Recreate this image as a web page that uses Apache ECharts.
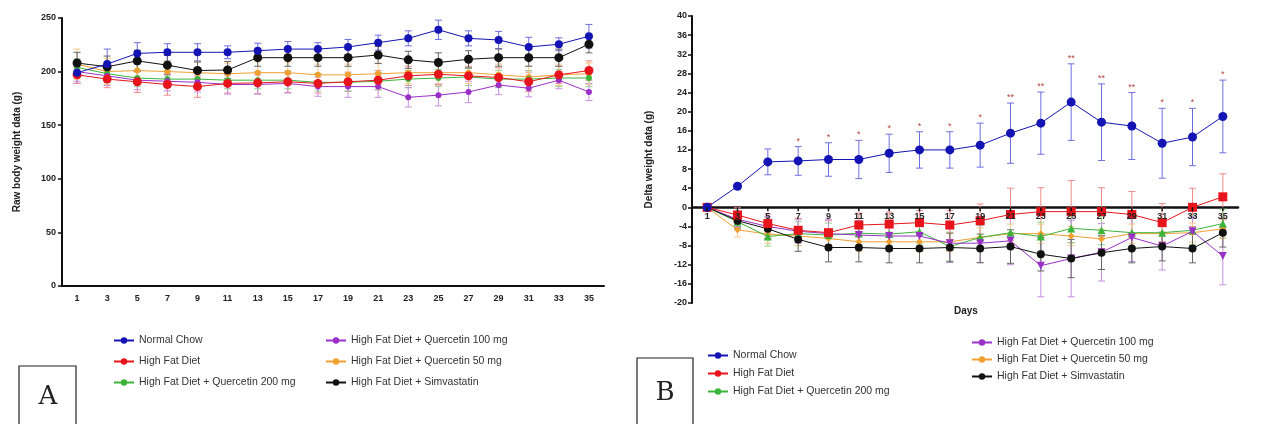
<!DOCTYPE html>
<html>
<head>
<meta charset="utf-8">
<script src="https://cdn.jsdelivr.net/npm/echarts@6/dist/echarts.min.js"></script>
<style>
  html, body { margin: 0; padding: 0; background: #fff; }
  #main { width: 1261px; height: 424px; }
</style>
</head>
<body>
<div id="main"></div>
<script>
"use strict"

// day labels (shared by both panels)
var days = ['1', '3', '5', '7', '9', '11', '13', '15', '17', '19', '21', '23', '25', '27', '29', '31', '33', '35'];

var groupNames = ['Normal Chow', 'High Fat Diet', 'High Fat Diet + Quercetin 200 mg',
	'High Fat Diet + Quercetin 100 mg', 'High Fat Diet + Quercetin 50 mg', 'High Fat Diet + Simvastatin'];

// panel A - raw body weight (g), mean and SD
var rawNormal = [199, 207, 217, 218, 218, 218, 219.5, 221, 221, 223, 227, 231, 239, 231, 229.5, 223, 225.5, 233];
var rawNormalSd = [10, 14, 10, 8, 8, 6, 7, 7, 6, 7, 7, 7, 9, 7, 8, 9, 6, 11];
var rawHfd = [197, 193, 190.5, 188, 186, 189, 189.5, 190.5, 189, 190.5, 192, 196, 197.5, 196, 194.5, 190.5, 197, 201];
var rawHfdSd = [8, 8, 10, 10, 10, 9, 10, 10, 9, 9, 9, 9, 9, 9, 9, 9, 8, 9];
var rawQ200 = [204, 198, 194, 193, 193, 192, 192, 192, 190, 190, 191, 193, 194, 195, 193, 193, 194, 194];
var rawQ200Sd = [8, 8, 8, 8, 8, 8, 8, 8, 8, 8, 8, 8, 8, 8, 8, 8, 8, 8];
var rawQ100 = [200, 196, 192, 191, 190, 188, 188, 189, 186, 186, 186, 176, 178, 181, 187.5, 184.5, 192, 181];
var rawQ100Sd = [9, 9, 9, 9, 9, 9, 9, 9, 9, 10, 10, 9, 10, 10, 9, 8, 8, 8];
var rawQ50 = [207, 200, 201, 200, 199, 198, 199, 199, 197, 197, 198, 199, 199, 199, 197, 195, 197, 198];
var rawQ50Sd = [14, 12, 10, 10, 10, 10, 10, 10, 10, 10, 10, 10, 12, 10, 10, 10, 10, 10];
var rawSimva = [208, 204.5, 210, 206, 201, 201.5, 213, 213, 213, 213, 215.5, 211, 208.5, 211.5, 213, 213, 213, 225.5];
var rawSimvaSd = [10, 10, 10, 9, 8, 8, 8, 8, 8, 8, 8, 8, 9, 8, 8, 8, 8, 8];

// panel B - delta weight (g), mean and SD
var deltaNormal = [0, 4.4, 9.5, 9.7, 10, 10, 11.3, 12, 12, 13, 15.5, 17.6, 22, 17.8, 17, 13.4, 14.7, 19];
var deltaNormalSd = [0, 0.6, 2.7, 3, 3.5, 4, 4, 3.8, 3.8, 4.6, 6.3, 6.5, 8, 8, 7, 7.3, 6, 7.6];
var deltaHfd = [0, -1.6, -3.4, -4.8, -5.3, -3.7, -3.5, -3.2, -3.7, -2.8, -1.5, -0.9, -0.9, -0.9, -1.5, -3.2, 0, 2.2];
var deltaHfdSd = [0, 1.5, 2, 2.5, 2.5, 2.5, 2.5, 2.5, 3, 3.5, 5.5, 5, 6.5, 5, 4.8, 4, 4, 4.8];
var deltaQ200 = [0, -3, -6.1, -5.5, -5.8, -5.4, -5.6, -5.1, -8.2, -6.3, -5.3, -6.1, -4.4, -4.8, -5.3, -5.3, -4.8, -3.4];
var deltaQ200Sd = [0, 1.5, 2, 2.5, 2.5, 2.5, 2.5, 2.5, 3, 2.5, 3, 3, 3, 3, 3, 3, 3, 3];
var deltaQ100 = [0, -2.5, -4, -5, -5.5, -5.8, -6, -6, -7.5, -7.5, -7, -12.2, -10.7, -9.4, -6.3, -8.1, -5, -10.2];
var deltaQ100Sd = [0, 1.5, 2, 2.5, 3, 3, 3, 3, 4, 4, 5, 6.5, 8, 6, 5, 5, 3, 6];
var deltaQ50 = [0, -4.7, -5.6, -6, -6.5, -7.2, -7.2, -7.2, -7.2, -6.3, -5.5, -5.5, -6, -6.6, -5.5, -5.5, -5.3, -4.5];
var deltaQ50Sd = [0, 1.5, 2, 2, 2, 2, 2, 2, 2, 2, 2, 2, 2, 2, 2, 2, 2, 2];
var deltaSimva = [0, -2.8, -4.5, -6.7, -8.4, -8.4, -8.6, -8.6, -8.4, -8.6, -8.2, -9.8, -10.7, -9.5, -8.6, -8.2, -8.6, -5.3];
var deltaSimvaSd = [0, 1.5, 2, 2.5, 3, 3, 3, 3, 3, 3, 3.5, 3.5, 4, 3.5, 3, 3, 3, 3];

// significance marks over Normal Chow in panel B
var starLabels = ['', '', '', '*', '*', '*', '*', '*', '*', '*', '**', '**', '**', '**', '**', '*', '*', '*'];

var colors = ['#1414b4', '#e8141c', '#3cb43c', '#9b30c8', '#f0a030', '#111111'];
var barColors = ['#6e6ee0', '#f08a8a', '#8ed88e', '#c690e0', '#f6c88a', '#666666'];

var font = 'Liberation Sans, Arial, sans-serif';

function errorRows(mean, sd) {
	var rows = [];
	for (var i = 0; i < mean.length; i++) {
		rows.push([i, mean[i] - sd[i], mean[i] + sd[i]]);
	}
	return rows;
}

function errorBarRender(color) {
	return function(params, api) {
		var x = api.value(0);
		var lo = api.coord([x, api.value(1)]);
		var hi = api.coord([x, api.value(2)]);
		var w = 3.5;
		var style = { stroke : color, lineWidth : 1 };
		return {
			type : 'group',
			children : [
				{ type : 'line', shape : { x1 : lo[0], y1 : lo[1], x2 : hi[0], y2 : hi[1] }, style : style },
				{ type : 'line', shape : { x1 : hi[0] - w, y1 : hi[1], x2 : hi[0] + w, y2 : hi[1] }, style : style },
				{ type : 'line', shape : { x1 : lo[0] - w, y1 : lo[1], x2 : lo[0] + w, y2 : lo[1] }, style : style }
			]
		};
	};
}

var symbolsA = ['circle', 'circle', 'circle', 'circle', 'circle', 'circle'];
var sizesA = [8, 9, 6, 6, 6, 9];
var symbolsB = ['circle', 'rect', 'triangle', 'path://M0,0 L10,0 L5,10 Z', 'diamond', 'circle'];
var sizesB = [9, 9, 8, 8, 7, 8];

var rawSets = [[rawNormal, rawNormalSd], [rawHfd, rawHfdSd], [rawQ200, rawQ200Sd],
	[rawQ100, rawQ100Sd], [rawQ50, rawQ50Sd], [rawSimva, rawSimvaSd]];
var deltaSets = [[deltaNormal, deltaNormalSd], [deltaHfd, deltaHfdSd], [deltaQ200, deltaQ200Sd],
	[deltaQ100, deltaQ100Sd], [deltaQ50, deltaQ50Sd], [deltaSimva, deltaSimvaSd]];

var series = [];
// z per group: key groups drawn on top
var zOf = [7, 6, 3, 4, 2, 5];
for (var k = 0; k < groupNames.length; k++) {
	series.push({
		type : 'line', name : groupNames[k], xAxisIndex : 0, yAxisIndex : 0, z : zOf[k],
		data : rawSets[k][0], symbol : symbolsA[k], symbolSize : sizesA[k],
		itemStyle : { color : colors[k] }, lineStyle : { color : colors[k], width : 1 }
	});
	series.push({
		type : 'line', name : groupNames[k], xAxisIndex : 1, yAxisIndex : 1, z : zOf[k],
		data : deltaSets[k][0], symbol : symbolsB[k], symbolSize : sizesB[k],
		itemStyle : { color : colors[k] }, lineStyle : { color : colors[k], width : 1 }
	});
}
// error bars (no name, so the legend takes its look from the lines)
for (var m = 0; m < groupNames.length; m++) {
	series.push({
		type : 'custom', xAxisIndex : 0, yAxisIndex : 0, z : 1, silent : true,
		renderItem : errorBarRender(barColors[m]), data : errorRows(rawSets[m][0], rawSets[m][1])
	});
	series.push({
		type : 'custom', xAxisIndex : 1, yAxisIndex : 1, z : 1, silent : true,
		renderItem : errorBarRender(barColors[m]), data : errorRows(deltaSets[m][0], deltaSets[m][1])
	});
}

// significance stars above the Normal Chow error bars
var starRows = [];
for (var i = 0; i < days.length; i++) {
	starRows.push([i, deltaNormal[i] + deltaNormalSd[i]]);
}
series.push({
	type : 'custom', xAxisIndex : 1, yAxisIndex : 1, z : 10, silent : true,
	renderItem : function(params, api) {
		var p = api.coord([api.value(0), api.value(1)]);
		return {
			type : 'text',
			style : { x : p[0], y : p[1] - 1, text : starLabels[params.dataIndex], fill : '#b84040',
				font : '9px ' + font, align : 'center', verticalAlign : 'bottom' }
		};
	},
	data : starRows
});

// day labels and ticks of panel B sit on the zero line
var zeroRows = [];
for (var j = 0; j < days.length; j++) {
	zeroRows.push([j, 0]);
}
series.push({
	type : 'custom', xAxisIndex : 1, yAxisIndex : 1, z : 12, silent : true,
	renderItem : function(params, api) {
		var p = api.coord([api.value(0), api.value(1)]);
		return {
			type : 'group',
			children : [
				{ type : 'line', shape : { x1 : p[0], y1 : p[1], x2 : p[0], y2 : p[1] + 4 },
					style : { stroke : '#111', lineWidth : 1.5 } },
				{ type : 'text', style : { x : p[0], y : p[1] + 5, text : days[params.dataIndex], fill : '#222',
					font : 'bold 9px ' + font, align : 'center', verticalAlign : 'top' } }
			]
		};
	},
	data : zeroRows
});

var axisLabelStyle = { color : '#222', fontSize : 9, fontWeight : 'bold', fontFamily : font };
var legendText = { color : '#333', fontSize : 10.5, fontFamily : font };

var option = {
	backgroundColor : '#fff',
	animation : false,
	grid : [
		{ left : 62, top : 18, width : 542, height : 268 },
		{ left : 692, top : 16, width : 546, height : 287 }
	],
	xAxis : [
		{
			type : 'category', gridIndex : 0, data : days, boundaryGap : true,
			axisLine : { lineStyle : { color : '#111', width : 2 } },
			axisTick : { alignWithLabel : true, length : 4, lineStyle : { color : '#111', width : 1.5 } },
			axisLabel : Object.assign({ margin : 8 }, axisLabelStyle),
			splitLine : { show : false }
		},
		{
			type : 'category', gridIndex : 1, data : days, boundaryGap : true,
			axisLine : { onZero : true, lineStyle : { color : '#111', width : 2.5 } },
			axisTick : { show : false },
			axisLabel : { show : false },
			splitLine : { show : false }
		}
	],
	yAxis : [
		{
			type : 'value', gridIndex : 0, min : 0, max : 250, interval : 50,
			name : 'Raw body weight data (g)', nameLocation : 'middle', nameGap : 40,
			nameTextStyle : { color : '#222', fontSize : 10, fontWeight : 'bold', fontFamily : font },
			axisLine : { show : true, lineStyle : { color : '#111', width : 2 } },
			axisTick : { show : true, length : 4, lineStyle : { color : '#111', width : 1.5 } },
			axisLabel : Object.assign({ margin : 6 }, axisLabelStyle),
			splitLine : { show : false }
		},
		{
			type : 'value', gridIndex : 1, min : -20, max : 40, interval : 4,
			name : 'Delta weight data (g)', nameLocation : 'middle', nameGap : 38,
			nameTextStyle : { color : '#222', fontSize : 10, fontWeight : 'bold', fontFamily : font },
			axisLine : { show : true, onZero : false, lineStyle : { color : '#111', width : 2 } },
			axisTick : { show : true, length : 4, lineStyle : { color : '#111', width : 1.5 } },
			axisLabel : Object.assign({ margin : 5 }, axisLabelStyle),
			splitLine : { show : false }
		}
	],
	legend : [
		{ data : groupNames.slice(0, 3), orient : 'vertical', left : 108, top : 330, itemGap : 10,
			itemWidth : 20, itemHeight : 8, textStyle : legendText },
		{ data : groupNames.slice(3, 6), orient : 'vertical', left : 320, top : 330, itemGap : 10,
			itemWidth : 20, itemHeight : 8, textStyle : legendText },
		{ data : groupNames.slice(0, 3), orient : 'vertical', left : 702, top : 345, itemGap : 7,
			itemWidth : 20, itemHeight : 8, textStyle : legendText },
		{ data : groupNames.slice(3, 6), orient : 'vertical', left : 966, top : 332, itemGap : 6,
			itemWidth : 20, itemHeight : 8, textStyle : legendText }
	],
	graphic : [
		{ type : 'text', left : 954, top : 306,
			style : { text : 'Days', fill : '#222', font : 'bold 10px ' + font } },
		{ type : 'rect', shape : { x : 19, y : 366, width : 57, height : 70 },
			style : { fill : '#fff', stroke : '#222', lineWidth : 1.2 } },
		{ type : 'text', x : 48, y : 397,
			style : { text : 'A', fill : '#222', font : '26px "DejaVu Serif", serif', align : 'center', verticalAlign : 'middle' } },
		{ type : 'rect', shape : { x : 637, y : 358, width : 56, height : 80 },
			style : { fill : '#fff', stroke : '#222', lineWidth : 1.2 } },
		{ type : 'text', x : 665, y : 393,
			style : { text : 'B', fill : '#222', font : '26px "DejaVu Serif", serif', align : 'center', verticalAlign : 'middle' } }
	],
	series : series
};

var chart = echarts.init(document.getElementById('main'));
chart.setOption(option);
</script>
</body>
</html>
